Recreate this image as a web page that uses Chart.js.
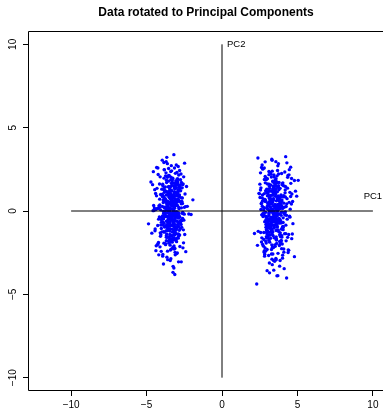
<!DOCTYPE html>
<html>
<head>
<meta charset="utf-8">
<script src="https://cdn.jsdelivr.net/npm/chart.js@4.4.1/dist/chart.umd.min.js"></script>
<style>
  html, body { margin: 0; padding: 0; background: #fff; overflow: hidden; }
  #wrap { position: absolute; left: 0; top: 0; width: 412px; height: 411px; }
</style>
</head>
<body>
<div id="wrap"><canvas id="c" width="412" height="411"></canvas></div>
<script>
// ---- data ----
const titleText = "Data rotated to Principal Components";
const tickValues = [-10, -5, 0, 5, 10];
const pc1AxisX = [-10, 10];
const pc1AxisY = [0, 0];
const pc2AxisX = [0, 0];
const pc2AxisY = [-10, 10];
const axisLabels = ["PC1", "PC2"];
const axisLabelX = [10, 0];
const axisLabelY = [0.9, 10];

const leftPC1 = [
-3.21,-3.45,-2.98,-3.62,-3.10,-3.38,-2.85,-3.71,-3.05,-3.52,-3.30,-3.18,-3.88,-2.74,-3.41,-3.27,-3.60,-2.93,-3.15,-3.49,
-3.34,-4.02,-3.08,-2.67,-3.56,-3.23,-3.79,-3.12,-2.90,-3.44,-3.66,-3.02,-3.29,-4.15,-3.37,-2.81,-3.50,-3.19,-3.93,-3.25,
-2.58,-3.40,-3.70,-3.14,-3.33,-2.96,-3.84,-3.47,-3.06,-3.58,-2.72,-3.31,-3.99,-3.22,-3.11,-3.64,-2.88,-3.43,-4.28,-3.17,
-3.36,-2.63,-3.54,-3.09,-3.76,-3.26,-2.95,-3.48,-4.07,-3.13,-3.68,-3.00,-3.39,-2.79,-3.57,-3.24,-3.85,-3.16,-2.50,-3.42,
-3.32,-3.74,-2.91,-3.20,-4.40,-3.53,-3.04,-3.35,-2.69,-3.61,-3.28,-3.90,-3.07,-3.46,-2.84,-3.19,-3.63,-4.55,-3.01,-3.39,
-2.45,-3.50,-3.12,-3.81,-3.27,-2.97,-3.44,-3.69,-3.03,-3.30,-4.12,-2.77,-3.55,-3.22,-3.87,-3.10,-2.60,-3.47,-3.34,-3.96,
-3.15,-2.86,-3.59,-4.20,-3.25,-3.40,-2.93,-3.72,-3.08,-3.52,-2.35,-3.36,-3.83,-3.18,-3.64,-2.99,-3.45,-4.65,-3.21,-3.05,
-3.58,-3.29,-2.70,-3.77,-3.14,-3.43,-3.95,-2.89,-3.33,-3.60,-3.06,-4.33,-3.24,-2.55,-3.48,-3.17,-3.80,-3.37,-2.82,-3.66,
-3.11,-3.53,-4.05,-3.26,-2.94,-3.71,-3.02,-3.40,-2.20,-3.57,-3.31,-3.89,-3.13,-2.76,-3.46,-4.48,-3.20,-3.62,-2.92,-3.35,
-3.74,-3.09,-2.65,-3.42,-3.98,-3.23,-3.56,-2.87,-4.87,-3.28,-3.67,-3.04,-2.40,-3.50,-3.16,-3.82,-2.05,-3.44,-4.25,-1.93,
-2.62,-4.08,-3.51,-2.79,-3.95,-3.17,-4.31,-2.71,-3.66,-2.99,-4.44,-3.28,-2.53,-3.82,-3.07,-4.18,-2.88,-3.59,-3.92,-2.68,
-3.45,-4.60,-2.94,-3.73,-2.47,-3.36,-4.02,-3.14,-2.83,-4.24,-3.53,-2.61,-3.88,-3.21,-4.51,-2.76,-3.62,-3.03,-4.13,-2.90,
-3.77,-2.58,-4.36,-3.26,-2.97,-3.84,-2.43,-4.09,-3.40,-2.72,-3.97,-3.11,-4.27,-2.86,-3.57,-3.02,-4.71,-3.32,-2.66,-3.70,
-4.00,-2.80,-3.48,-4.40,-2.95,-3.65,-3.19,-4.15,-2.56,-3.90,-3.09,-2.74,-4.21,-3.38,-2.92,-3.81,-4.57,-3.24,-2.64,-3.55,
-3.06,-4.05,-2.85,-3.69,-4.34,-3.15,-2.50,-3.86,-3.43,-2.98,-4.11,-3.30,-2.78,-3.96,-3.60,-2.69,-4.46,-3.12,-2.89,-3.76,
-4.23,-2.73,-3.50,-3.01,-3.93,-2.60,-4.38,-3.34,-2.82,-3.67,-4.07,-3.20,-2.48,-3.79,-3.10,-4.29,-2.93,-3.58,-2.30,-3.42,
-3.87,-2.77,-4.19,-3.27,-2.67,-3.74,-4.53,-3.05,-2.91,-3.99,-3.46,-2.59,-4.14,-3.16,-3.83,-2.81,-4.01,-3.37,-2.70,-3.63,
-3.13,-4.26,-2.87,-3.52,-2.54,-3.94,-3.22,-4.43,-2.75,-3.68,
-3.28,-3.61,-2.97,-3.44,-3.12,-3.79,-3.35,-2.86,-3.53,-3.20,-3.70,-3.04,-3.47,-3.89,-3.16,-3.58,-2.92,-3.39,-3.25,-3.66,
-3.09,-3.50,-3.83,-3.31,-2.79,-3.43,-3.14,-3.74,-3.01,-3.56,-3.23,-4.10,-3.37,-2.89,-3.62,-3.18,-3.48,-3.95,-3.07,-3.33,
-3.68,-2.95,-3.41,-3.22,-3.86,-3.13,-3.54,-2.83,-3.30,-3.76,-3.05,-3.46,-3.19,-3.91,-2.99,-3.59,-3.27,-3.71,-3.10,-3.42,
-3.55,-3.02,-3.81,-3.29,-2.91,-3.64,-3.17,-3.49,-4.03,-3.24,-3.38,-2.81,-3.72,-3.11,-3.57,-3.34,-2.94,-3.85,-3.21,-3.45,
-3.15,-3.63,-3.36,-2.88,-3.75,-3.26,-3.52,-3.00,-3.87,-3.40,-3.08,-3.69,-3.32,-2.96,-3.60,-3.19,-3.93,-3.44,-3.03,-3.51
];
const leftPC2 = [
0.12,-0.63,1.05,0.41,-1.32,2.03,-0.27,-0.95,0.66,1.48,-1.87,0.25,-0.48,1.21,-2.34,0.83,-0.11,1.76,-0.79,0.04,
2.41,-1.05,0.37,-0.58,1.12,-1.61,0.71,-0.22,2.67,-2.05,0.19,1.39,-0.87,-0.36,0.94,-1.44,0.53,3.38,-2.71,-0.04,
1.63,-0.41,-1.18,0.88,0.29,-2.52,1.97,-0.69,0.47,-1.02,2.22,-0.15,1.31,-1.73,0.61,-0.33,-3.05,1.08,0.16,-0.91,
-1.51,0.78,2.55,-0.24,1.44,-2.18,0.33,-0.72,0.99,-1.27,1.85,-0.06,-2.86,0.57,1.16,-0.52,2.91,-1.39,0.22,-0.84,
0.69,-1.96,1.27,-0.31,0.08,2.13,-1.14,-0.45,1.71,-2.41,0.42,-0.67,1.53,-1.08,0.91,-3.42,0.27,2.36,-0.19,-1.66,
1.02,-0.38,-2.25,0.64,1.89,-0.98,0.15,-1.49,2.76,-0.56,0.36,1.35,-1.81,-0.13,0.82,-2.63,1.58,-0.74,0.48,3.05,
-1.23,0.21,1.13,-0.49,-3.68,0.74,1.92,-0.88,0.31,-1.56,1.47,-0.26,2.48,-2.10,0.55,-0.61,1.23,-1.33,0.02,-0.94,
2.08,-1.72,0.43,-0.09,1.66,-2.97,0.87,-0.43,1.19,-1.17,0.59,2.61,-0.71,-1.91,0.11,1.38,-0.35,-2.29,0.96,3.22,
-0.54,1.79,-1.42,0.39,-0.83,2.29,-2.56,0.73,-0.18,1.01,-1.09,0.51,-3.81,1.57,-0.29,0.18,-1.63,2.84,-0.66,1.24,
-2.02,0.62,-0.13,1.44,-1.25,0.95,-0.47,2.16,-0.77,0.34,-1.38,1.71,-2.44,0.06,-0.99,1.12,-0.21,-1.84,2.58,0.67,
0.45,-1.52,2.14,-0.37,0.93,-2.28,1.36,-0.81,0.08,1.84,-1.19,0.62,-0.55,2.47,-1.76,0.31,-0.12,1.11,-2.61,0.79,
-0.92,1.58,-0.23,0.54,-1.41,2.72,-0.68,0.17,1.29,-1.98,0.86,-0.44,-3.18,1.67,0.03,-1.06,2.02,-0.31,0.71,-1.63,
1.22,-0.16,-2.09,0.49,1.93,-0.74,0.26,-1.31,2.37,-0.58,0.97,-2.48,0.14,1.46,-0.89,-0.05,1.74,-1.47,0.58,2.96,
-0.39,0.83,-1.71,1.05,-0.27,-2.77,1.51,0.21,-1.13,0.66,2.26,-0.63,-1.89,0.38,1.17,-0.96,0.02,-3.32,1.39,-0.48,
1.81,-0.84,0.13,-1.58,0.91,2.58,-0.19,-1.24,0.52,1.63,-2.15,0.35,-0.71,1.01,-2.92,0.19,1.28,-0.43,-1.37,0.74,
2.19,-0.57,0.42,-1.84,1.53,-0.09,-2.38,0.88,-0.66,1.71,0.07,-1.15,2.87,-0.33,0.61,-2.02,1.09,-0.78,0.28,-1.49,
-0.15,1.44,-2.63,0.56,-0.98,2.11,0.33,-1.69,1.19,-0.41,0.76,-2.21,1.62,-0.06,-1.27,2.43,-0.52,0.99,-3.05,0.24,
1.34,-0.87,0.67,-1.93,2.05,-0.29,0.48,-1.08,1.88,-0.61,
0.33,-0.58,1.07,-1.21,0.72,-0.14,1.66,-0.93,0.21,-1.72,0.96,-0.37,1.34,-0.02,-1.46,0.58,-0.79,1.88,-0.26,0.44,
-1.09,0.14,1.41,-0.51,-2.13,0.81,-0.06,1.19,-1.37,0.39,-0.69,2.05,-0.18,0.63,-1.58,1.02,-0.41,0.27,-0.97,1.53,
-0.31,0.89,-1.85,0.09,1.27,-0.62,0.52,-1.16,1.73,-0.22,0.36,-1.41,0.78,-0.85,2.31,-0.09,-1.27,0.67,1.12,-0.47,
0.98,-1.64,0.18,-0.36,1.59,-0.99,0.46,-0.12,-2.42,0.84,1.24,-0.73,0.05,-1.32,1.45,-0.55,0.71,-1.93,0.31,-0.04,
1.16,-0.82,0.61,-1.51,0.24,1.97,-0.28,-1.05,0.87,-0.45,1.37,-1.78,0.12,0.54,-0.66,-2.24,1.61,-0.19,0.94,-1.12
];
const rightPC1 = [
3.41,3.18,3.72,3.55,3.02,3.88,3.30,3.63,2.89,3.47,3.25,3.96,3.11,3.58,3.36,2.78,3.69,3.44,4.05,3.21,
3.52,2.95,3.80,3.33,3.14,3.66,4.18,3.07,3.49,2.70,3.59,3.27,3.92,3.39,2.85,3.74,3.16,4.30,3.45,3.00,
3.61,3.23,2.62,3.84,3.37,3.09,4.10,3.54,2.92,3.71,3.29,3.98,3.43,2.55,3.64,3.19,4.42,3.50,3.04,3.78,
3.35,2.81,3.67,3.12,4.00,3.46,2.97,3.83,3.26,4.22,3.57,2.74,3.40,3.90,3.15,3.62,2.48,3.48,4.55,3.31,
3.76,3.06,3.53,2.88,4.13,3.38,3.70,2.60,3.24,3.95,3.44,3.01,4.35,3.60,2.83,3.51,3.17,4.68,3.32,2.40,
3.86,3.20,3.65,2.99,4.07,3.42,2.76,3.56,3.13,4.25,3.39,2.66,3.81,3.28,4.50,3.05,3.73,2.30,3.47,3.94,
3.10,3.58,4.15,3.22,2.91,3.68,3.34,4.02,2.58,3.50,3.82,3.08,4.62,3.41,2.86,3.63,3.18,4.80,3.36,2.72,
3.55,3.99,3.03,3.45,2.80,3.77,3.26,4.38,3.12,3.60,2.52,3.87,3.30,4.20,2.94,3.54,3.15,5.05,3.48,2.68,
3.91,3.21,3.66,2.98,4.09,3.37,2.63,3.75,3.07,4.45,3.43,2.87,3.59,3.24,4.87,3.02,3.70,2.15,3.52,4.28,
3.14,3.79,2.93,3.46,4.03,3.28,2.45,3.62,3.11,4.16,3.40,2.77,3.85,3.33,4.60,3.06,3.57,2.35,4.95,3.44,
2.72,4.19,3.61,2.86,4.03,3.27,4.42,2.79,3.75,3.08,4.55,3.37,2.62,3.92,3.16,4.29,2.96,3.68,4.01,2.76,
3.54,4.70,3.02,3.82,2.55,3.45,4.12,3.23,2.91,4.34,3.63,2.69,3.97,3.30,4.61,2.84,3.71,3.12,4.23,2.98,
3.86,2.66,4.46,3.35,3.05,3.93,2.51,4.18,3.49,2.80,4.06,3.20,4.37,2.94,3.66,3.11,4.80,3.41,2.74,3.79,
4.09,2.88,3.57,4.50,3.03,3.74,3.28,4.25,2.64,3.99,3.18,2.82,4.31,3.47,3.00,3.90,4.66,3.33,2.72,3.64,
3.15,4.14,2.93,3.78,4.44,3.24,2.58,3.95,3.52,3.06,4.20,3.39,2.86,4.05,3.69,2.77,4.56,3.21,2.97,3.85,
4.32,2.81,3.59,3.10,4.02,2.68,4.48,3.43,2.90,3.76,4.16,3.29,2.56,3.88,3.19,4.39,3.01,3.67,2.38,3.51,
3.96,2.85,4.28,3.36,2.75,3.83,4.63,3.14,2.99,4.08,3.55,2.67,4.23,3.25,3.92,2.89,4.10,3.46,2.78,3.72,
3.22,4.35,2.95,3.61,2.62,4.03,3.31,4.52,2.83,3.77,
3.38,3.71,3.07,3.54,3.22,3.89,3.45,2.96,3.63,3.30,3.80,3.14,3.57,3.99,3.26,3.68,3.02,3.49,3.35,3.76,
3.19,3.60,3.93,3.41,2.89,3.53,3.24,3.84,3.11,3.66,3.33,4.20,3.47,2.99,3.72,3.28,3.58,4.05,3.17,3.43,
3.78,3.05,3.51,3.32,3.96,3.23,3.64,2.93,3.40,3.86,3.15,3.56,3.29,4.01,3.09,3.69,3.37,3.81,3.20,3.52,
3.65,3.12,3.91,3.39,3.01,3.74,3.27,3.59,4.13,3.34,3.48,2.91,3.82,3.21,3.67,3.44,3.04,3.95,3.31,3.55,
3.25,3.73,3.46,2.98,3.85,3.36,3.62,3.10,3.97,3.50,3.18,3.79,3.42,3.06,3.70,3.29,4.03,3.54,3.13,3.61
];
const rightPC2 = [
-0.21,0.88,-1.14,0.35,1.62,-0.57,-2.03,0.09,1.21,-0.83,0.54,-1.49,2.18,-0.12,0.97,-2.46,0.28,1.43,-0.69,-0.01,
1.85,-1.27,0.62,-0.38,-3.12,0.74,1.09,-0.95,0.19,2.51,-1.71,0.41,-0.26,1.34,-2.21,0.83,-0.48,2.89,-1.02,0.13,
-0.74,1.57,-1.86,0.26,0.95,-2.67,0.47,-0.31,1.98,-1.18,0.68,-0.07,-3.55,1.26,-0.59,2.32,-1.41,0.36,-0.88,1.71,
0.51,-2.38,1.15,-0.16,-0.99,2.04,-1.63,0.79,-0.43,3.26,-2.84,0.22,1.49,-0.71,0.03,-1.95,1.03,-0.29,2.63,-1.31,
-0.52,1.31,-2.12,0.64,-0.09,1.76,-3.88,0.44,-1.07,2.25,-0.35,0.91,-1.58,0.15,-2.59,1.18,-0.79,0.57,3.04,-1.22,
0.32,-1.44,2.11,-0.62,0.85,-2.97,0.06,1.53,-0.91,-1.79,0.71,2.76,-0.19,-2.31,1.12,-0.46,0.39,-4.38,1.66,-1.09,
-0.27,1.94,-1.36,0.58,-0.81,2.43,-2.17,0.17,1.39,-0.55,-3.31,0.93,-1.66,0.29,2.07,-0.97,0.66,-2.74,1.28,-0.14,
1.02,-1.98,0.45,-0.33,2.58,-1.25,0.12,-2.49,1.61,-0.67,0.81,-1.53,3.11,-0.05,-1.12,0.37,-3.71,1.84,-0.42,0.59,
-1.83,0.24,1.47,-0.76,-2.28,0.98,-0.23,2.22,-1.47,0.52,-0.93,1.69,-2.92,0.08,1.19,-0.61,2.71,-1.35,0.31,-4.02,
0.76,-0.44,1.88,-1.61,0.18,-2.58,1.06,-0.86,2.37,-0.18,0.63,-1.29,1.36,-3.22,0.42,-0.72,2.96,-2.06,0.89,-0.37,
-0.33,1.26,-1.68,0.58,-0.92,2.04,-2.36,0.19,1.52,-0.61,0.87,-1.25,2.61,-0.08,-1.87,0.43,1.09,-0.47,-2.83,0.71,
1.73,-0.76,0.31,-1.43,2.29,-0.18,-3.46,0.94,-0.52,1.37,0.05,-2.01,0.66,-1.11,1.95,-0.29,-2.54,1.18,-0.85,0.24,
-1.31,0.79,2.48,-0.66,0.12,-1.76,1.61,-0.24,-3.02,1.04,-0.97,0.48,2.13,-1.54,0.36,-0.11,1.83,-2.19,0.63,-0.73,
0.92,-2.42,1.31,-0.37,-1.19,2.84,-0.59,0.27,-1.61,1.57,-0.03,-2.71,0.74,1.12,-0.88,0.41,-1.38,2.39,-0.21,-3.89,
1.48,-0.14,-1.92,0.67,2.17,-1.03,0.09,-2.26,1.23,-0.55,0.84,-1.48,2.95,-0.41,0.33,-1.71,1.66,-0.79,0.16,-2.97,
-0.49,1.89,-1.17,0.53,-2.65,0.96,-0.31,1.42,-1.82,0.21,2.34,-0.68,-1.29,0.86,-0.02,-2.33,1.14,-0.94,3.18,0.38,
-1.57,0.69,-0.26,1.79,-2.11,0.14,1.02,-0.83,-3.58,1.51,-0.45,0.29,-1.36,2.21,-0.71,0.57,-2.47,1.33,-0.17,0.82,
-1.05,2.02,-0.39,-1.74,0.47,1.69,-2.89,0.11,-0.64,1.27,
-0.42,0.67,-1.03,0.29,-1.64,0.86,-0.17,1.31,-0.74,0.11,-2.07,0.53,-0.36,1.62,-1.21,0.04,-0.89,1.08,-0.55,0.38,
1.21,-0.27,-1.46,0.74,-0.08,1.83,-0.95,0.42,-1.76,0.19,-0.61,1.47,-0.13,-2.31,0.91,-0.47,0.26,-1.12,1.36,-0.02,
-0.68,1.03,-0.21,-1.39,0.57,-0.84,1.69,-0.33,0.08,-1.97,0.82,-0.52,1.18,-1.06,0.35,-0.15,-2.58,0.63,-0.79,1.52,
0.14,-1.28,0.97,-0.43,1.94,-0.71,0.46,-1.55,0.23,-0.06,1.27,-0.98,-1.83,0.69,-0.29,2.16,-0.57,0.31,-1.17,0.88,
-0.37,1.41,-0.64,-1.36,0.52,-0.11,1.76,-0.92,0.17,-2.03,0.79,-0.49,1.11,-1.61,0.03,-0.82,1.58,-0.24,-1.44,0.61
];

// ---- build chart ----
const FONT = "'Liberation Sans', Arial, Helvetica, sans-serif";
Chart.defaults.font.family = FONT;
Chart.defaults.color = '#000';

const zip = (xs, ys) => xs.map((x, i) => ({ x: x, y: ys[i] }));
const pts = zip(leftPC1, leftPC2).concat(zip(rightPC1, rightPC2));
const fmt = v => (v < 0 ? '\u2212' + Math.abs(v) : String(v));

// plot frame: left, top and bottom sides (the right side lies beyond the window)
const boxPlugin = {
  id: 'box',
  afterDraw(chart) {
    const a = chart.chartArea, ctx = chart.ctx;
    const l = Math.round(a.left) + 0.5, t = Math.round(a.top) + 0.5, b = Math.round(a.bottom) - 0.5;
    ctx.save();
    ctx.strokeStyle = '#000';
    ctx.lineWidth = 1;
    ctx.beginPath();
    ctx.moveTo(chart.width + 2, t);
    ctx.lineTo(l, t);
    ctx.lineTo(l, b);
    ctx.lineTo(chart.width + 2, b);
    ctx.stroke();
    ctx.restore();
  }
};
const pcLabelPlugin = {
  id: 'pcLabels',
  afterDatasetsDraw(chart) {
    const xs = chart.scales.x, ys = chart.scales.y, ctx = chart.ctx;
    ctx.save();
    ctx.font = '9.5px ' + FONT;
    ctx.fillStyle = '#000';
    ctx.textBaseline = 'middle';
    ctx.textAlign = 'center';
    ctx.fillText(axisLabels[0], xs.getPixelForValue(axisLabelX[0]), ys.getPixelForValue(axisLabelY[0]));
    ctx.textAlign = 'left';
    ctx.fillText(axisLabels[1], xs.getPixelForValue(axisLabelX[1]) + 5, ys.getPixelForValue(axisLabelY[1]));
    ctx.restore();
  }
};

new Chart(document.getElementById('c'), {
  type: 'scatter',
  data: {
    datasets: [
      { type: 'line', data: zip(pc1AxisX, pc1AxisY), borderColor: '#000', borderWidth: 1,
        pointRadius: 0, fill: false, showLine: true },
      { type: 'line', data: zip(pc2AxisX, pc2AxisY), borderColor: '#000', borderWidth: 1,
        pointRadius: 0, fill: false, showLine: true },
      { data: pts, backgroundColor: '#0000ff', borderWidth: 0, pointRadius: 1.7 }
    ]
  },
  plugins: [boxPlugin, pcLabelPlugin],
  options: {
    responsive: false,
    animation: false,
    events: [],
    layout: { padding: 0 },
    plugins: {
      legend: { display: false },
      tooltip: { enabled: false },
      title: {
        display: true, text: titleText, color: '#000',
        font: { size: 12, weight: 'bold', family: FONT },
        padding: { top: 5.5, bottom: 11.1 }
      }
    },
    scales: {
      x: {
        type: 'linear', position: 'bottom', min: -12.857, max: 12.326,
        afterFit(s) { s.height = 20; },
        afterBuildTicks(s) { s.ticks = tickValues.map(v => ({ value: v })); },
        ticks: { callback: v => fmt(v), font: { size: 10 }, color: '#000', padding: 3,
                 maxRotation: 0, minRotation: 0, autoSkip: false },
        grid: { drawOnChartArea: false, drawTicks: true, tickLength: 5, color: '#000', tickColor: '#000' },
        border: { display: false }
      },
      y: {
        type: 'linear', position: 'left', min: -10.8, max: 10.8,
        afterFit(s) { s.width = 28; },
        afterBuildTicks(s) { s.ticks = tickValues.map(v => ({ value: v })); },
        ticks: { callback: v => fmt(v), font: { size: 10 }, color: '#000', padding: 1,
                 minRotation: 90, maxRotation: 90, crossAlign: 'center', autoSkip: false },
        grid: { drawOnChartArea: false, drawTicks: true, tickLength: 5, color: '#000', tickColor: '#000' },
        border: { display: false }
      }
    }
  }
});
</script>
</body>
</html>
